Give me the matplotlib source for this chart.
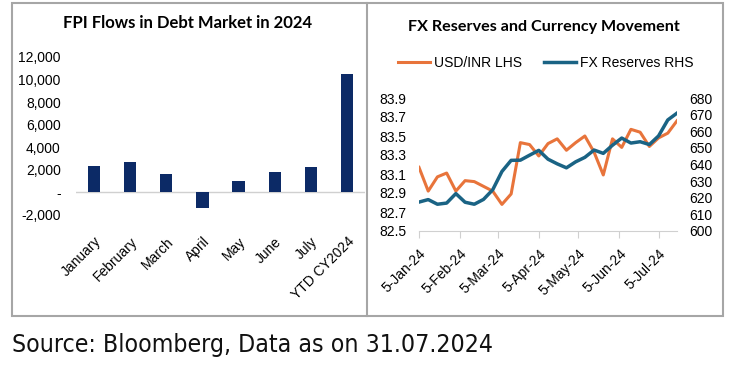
import matplotlib
matplotlib.use("Agg")
import matplotlib.pyplot as plt
import matplotlib.dates as mdates
from matplotlib.lines import Line2D
from matplotlib.patches import Rectangle
import numpy as np

# FPI flows in debt market (left panel)
months = ["January", "February", "March", "April", "May", "June", "July", "YTD CY2024"]
fpi_flows = [2360, 2680, 1620, -1360, 1030, 1770, 2210, 10460]

# weekly USD/INR and FX reserves (right panel)
week_start = np.datetime64("2024-01-05")
usd_inr = [83.17, 82.92, 83.07, 83.11, 82.92, 83.03, 83.02, 82.97, 82.92, 82.78,
           82.89, 83.43, 83.41, 83.29, 83.42, 83.47, 83.35, 83.43, 83.50, 83.33,
           83.09, 83.47, 83.38, 83.57, 83.54, 83.39, 83.48, 83.53, 83.66]
fx_reserves = [617.4, 618.9, 616.1, 616.8, 622.5, 617.3, 616.1, 619.0, 624.8, 635.8,
               642.5, 642.6, 645.6, 648.5, 643.2, 640.4, 638.0, 641.6, 644.3, 648.7,
               646.7, 651.6, 655.9, 652.9, 653.7, 652.0, 657.2, 666.8, 670.9]
dates = week_start + np.arange(len(usd_inr)) * np.timedelta64(7, "D")
date_ticks = np.array(["2024-01-05", "2024-02-05", "2024-03-05", "2024-04-05",
                       "2024-05-05", "2024-06-05", "2024-07-05"], dtype="datetime64[D]")

W, H = 731, 365
navy = "#0c2a66"
orange = "#e8743b"
teal = "#1a6384"
gray = "#a6a6a6"
tick_font = "Liberation Sans"

fig = plt.figure(figsize=(W / 100, H / 100), dpi=100)


def frac(x0, y0, x1, y1):
    # pixel box (top-left origin) to figure fraction
    return [x0 / W, 1 - y1 / H, (x1 - x0) / W, (y1 - y0) / H]


# ---- left: bar chart
ax1 = fig.add_axes(frac(76, 57, 365, 215))
x = np.arange(len(months))
ax1.bar(x, fpi_flows, width=0.34, color=navy, zorder=3)
ax1.axhline(0, color="#d0d0d0", lw=1, zorder=2)
ax1.set_xlim(-0.5, len(months) - 0.5)
ax1.set_ylim(-2000, 12000)
yt = np.arange(-2000, 12001, 2000)
ax1.set_yticks(yt)
ax1.set_yticklabels(["-" if v == 0 else f"{v:,}" for v in yt], fontsize=10, family=tick_font)
ax1.set_xticks(x)
ax1.set_xticklabels(months, rotation=45, ha="right", va="top", rotation_mode="anchor",
                    fontsize=10, family=tick_font)
ax1.tick_params(axis="y", length=0, pad=11)
ax1.tick_params(axis="x", length=0, pad=14)
for s in ax1.spines.values():
    s.set_visible(False)
fig.text(188 / W, 1 - 23 / H, "FPI Flows in Debt Market in 2024", ha="center", va="center",
         fontsize=12, fontweight="bold", family="Lato")

# ---- right: USD/INR vs FX reserves
ax2 = fig.add_axes(frac(419, 98, 677, 231))
ax3 = ax2.twinx()
l1, = ax2.plot(dates, usd_inr, color=orange, lw=2.2, label="USD/INR LHS", zorder=3)
l2, = ax3.plot(dates, fx_reserves, color=teal, lw=2.5, label="FX Reserves RHS", zorder=3)
ax2.set_ylim(82.5, 83.9)
ax2.set_yticks(np.arange(82.5, 83.95, 0.2))
ax2.yaxis.set_major_formatter(plt.FormatStrFormatter("%.1f"))
ax3.set_ylim(600, 680)
ax3.set_yticks(np.arange(600, 681, 10))
ax2.set_xlim(dates[0], dates[-1])
ax2.set_xticks(date_ticks)
ax2.xaxis.set_major_formatter(mdates.DateFormatter("%-d-%b-%y"))
for lab in ax2.get_xticklabels():
    lab.set_rotation(45)
    lab.set_ha("right")
    lab.set_va("top")
    lab.set_rotation_mode("anchor")
for a in (ax2, ax3):
    for s in a.spines.values():
        s.set_visible(False)
    for lab in a.get_yticklabels() + a.get_xticklabels():
        lab.set_family(tick_font)
        lab.set_fontsize(10)
ax2.spines["bottom"].set_visible(True)
ax2.spines["bottom"].set_color("#d0d0d0")
ax2.tick_params(axis="x", length=5, color="#d0d0d0", pad=6)
ax2.tick_params(axis="y", length=0, pad=9)
ax3.tick_params(axis="y", length=0, pad=9)
ax3.set_zorder(ax2.get_zorder() + 1)

fig.text(544 / W, 1 - 27 / H, "FX Reserves and Currency Movement", ha="center", va="center",
         fontsize=11.6, fontweight="bold", family="Lato")
fig.legend(handles=[l1, l2], loc="center", bbox_to_anchor=(546 / W, 1 - 63 / H), ncol=2,
           frameon=False, prop={"family": tick_font, "size": 10}, handlelength=2.3,
           handletextpad=0.3, columnspacing=1.6)

# ---- panel borders
fig.add_artist(Rectangle((12 / W, 1 - 316 / H), (723 - 12) / W, (316 - 3) / H,
                         transform=fig.transFigure, fill=False, ec=gray, lw=1.5))
fig.add_artist(Line2D([367 / W, 367 / W], [1 - 316 / H, 1 - 3 / H],
                      transform=fig.transFigure, color=gray, lw=1.5))

fig.text(12 / W, 1 - 352 / H, "Source: Bloomberg, Data as on 31.07.2024", ha="left",
         va="baseline", fontsize=17.8, family="DejaVu Sans", fontstretch="condensed",
         color="#111111")

fig.savefig("out.png", dpi=100)
